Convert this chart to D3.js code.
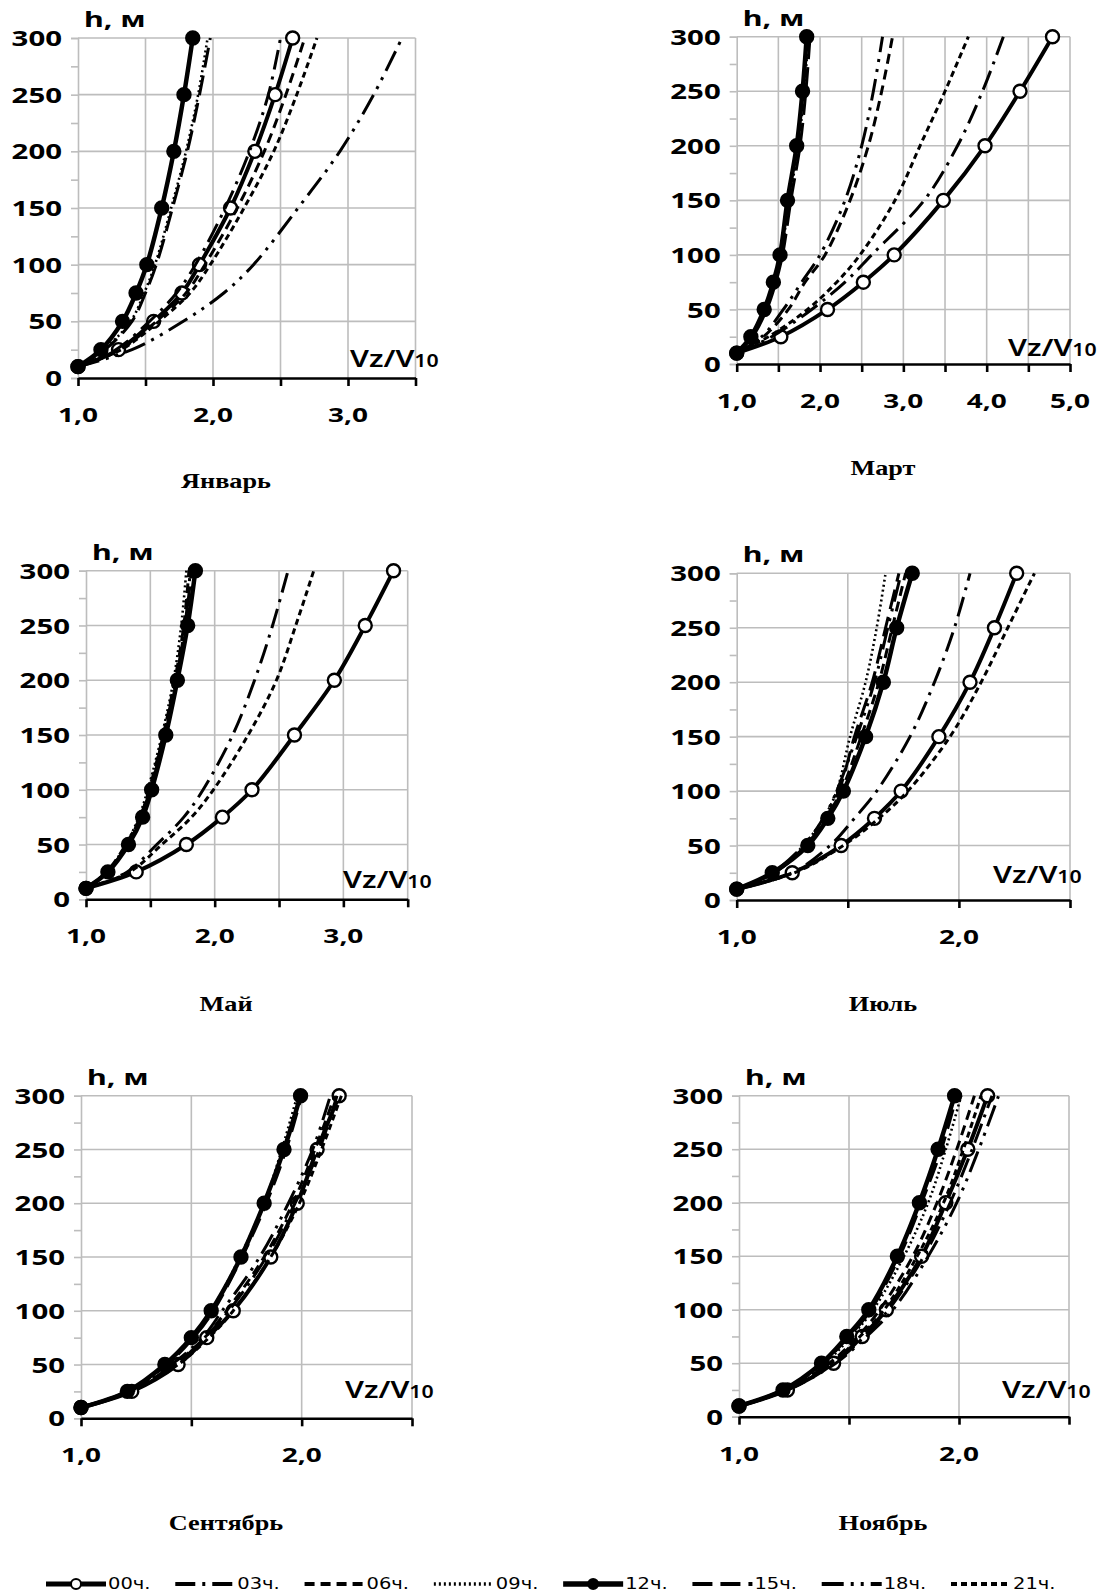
<!DOCTYPE html>
<html>
<head>
<meta charset="utf-8">
<script src="https://cdn.jsdelivr.net/npm/d3@7"></script>
<style>
body{margin:0;background:#fff;}
svg{display:block;}
</style>
</head>
<body>
<svg id="chart" width="1104" height="1595"></svg>
<script>
var heights = [10,25,50,75,100,150,200,250,300];
var hours = ["00ч.","03ч.","06ч.","09ч.","12ч.","15ч.","18ч.","21ч."];
var months = ["Январь","Март","Май","Июль","Сентябрь","Ноябрь"];
var xMax = [3.5,5,3.5,2.5,2.5,2.5];
var xLabels = [[1,2,3],[1,2,3,4,5],[1,2,3],[1,2],[1,2],[1,2]];
var yTicks = [0,50,100,150,200,250,300];

// Vz/V10, one row per hour: 00,03,06,09,12,15,18,21
var janValues = [
 [1.0,1.30,1.56,1.77,1.90,2.13,2.31,2.46,2.59],
 [1.0,1.28,1.53,1.73,1.87,2.09,2.27,2.41,2.50],
 [1.0,1.31,1.58,1.80,1.94,2.18,2.38,2.54,2.68],
 [1.0,1.19,1.39,1.49,1.57,1.69,1.80,1.89,1.96],
 [1.0,1.17,1.33,1.43,1.51,1.62,1.71,1.785,1.85],
 [1.0,1.20,1.40,1.50,1.58,1.70,1.81,1.90,1.98],
 [1.0,1.40,1.78,2.08,2.30,2.63,2.94,3.19,3.40],
 [1.0,1.32,1.60,1.83,1.98,2.23,2.45,2.62,2.77]
];
var marValues = [
 [1.0,1.53,2.09,2.52,2.89,3.48,3.98,4.40,4.79],
 [1.0,1.42,1.90,2.30,2.62,3.25,3.65,3.95,4.20],
 [1.0,1.32,1.62,1.82,2.06,2.36,2.58,2.74,2.87],
 [1.0,1.18,1.34,1.45,1.53,1.63,1.74,1.81,1.86],
 [1.0,1.17,1.33,1.44,1.52,1.61,1.72,1.79,1.84],
 [1.0,1.19,1.36,1.47,1.55,1.65,1.76,1.83,1.88],
 [1.0,1.30,1.56,1.78,2.00,2.30,2.50,2.64,2.75],
 [1.0,1.38,1.85,2.20,2.48,2.90,3.20,3.50,3.78]
];
var mayValues = [
 [1.0,1.39,1.78,2.06,2.29,2.62,2.93,3.17,3.39],
 [1.0,1.32,1.55,1.76,1.91,2.14,2.31,2.45,2.57],
 [1.0,1.16,1.31,1.42,1.49,1.60,1.69,1.76,1.80],
 [1.0,1.16,1.31,1.41,1.48,1.59,1.68,1.74,1.78],
 [1.0,1.17,1.33,1.44,1.51,1.62,1.71,1.79,1.85],
 [1.0,1.17,1.32,1.43,1.50,1.61,1.70,1.77,1.82],
 [1.0,1.17,1.32,1.42,1.50,1.60,1.70,1.77,1.81],
 [1.0,1.34,1.59,1.82,1.99,2.26,2.48,2.63,2.77]
];
var julValues = [
 [1.0,1.25,1.47,1.62,1.74,1.91,2.05,2.16,2.26],
 [1.0,1.25,1.42,1.53,1.63,1.78,1.89,1.98,2.05],
 [1.0,1.17,1.31,1.40,1.47,1.56,1.64,1.70,1.76],
 [1.0,1.17,1.30,1.39,1.45,1.51,1.58,1.63,1.67],
 [1.0,1.16,1.32,1.41,1.48,1.58,1.66,1.72,1.79],
 [1.0,1.17,1.31,1.40,1.46,1.53,1.61,1.67,1.73],
 [1.0,1.16,1.30,1.39,1.45,1.54,1.62,1.68,1.74],
 [1.0,1.26,1.48,1.64,1.77,1.96,2.10,2.22,2.34]
];
var sepValues = [
 [1.0,1.23,1.44,1.57,1.69,1.86,1.98,2.07,2.17],
 [1.0,1.23,1.43,1.56,1.67,1.84,1.97,2.08,2.16],
 [1.0,1.22,1.42,1.56,1.66,1.83,1.96,2.06,2.15],
 [1.0,1.21,1.38,1.50,1.59,1.72,1.83,1.91,1.98],
 [1.0,1.21,1.38,1.50,1.59,1.725,1.83,1.92,1.995],
 [1.0,1.21,1.39,1.51,1.60,1.73,1.84,1.93,2.00],
 [1.0,1.22,1.41,1.55,1.64,1.81,1.94,2.05,2.13],
 [1.0,1.23,1.44,1.58,1.69,1.86,1.99,2.09,2.18]
];
var novValues = [
 [1.0,1.22,1.43,1.56,1.67,1.83,1.94,2.04,2.13],
 [1.0,1.22,1.43,1.57,1.68,1.84,1.96,2.06,2.15],
 [1.0,1.21,1.41,1.54,1.64,1.79,1.90,1.99,2.07],
 [1.0,1.20,1.39,1.51,1.61,1.75,1.86,1.94,2.01],
 [1.0,1.20,1.375,1.49,1.59,1.72,1.82,1.905,1.98],
 [1.0,1.20,1.38,1.50,1.60,1.73,1.83,1.92,1.99],
 [1.0,1.22,1.44,1.58,1.70,1.86,1.99,2.09,2.18],
 [1.0,1.22,1.42,1.55,1.66,1.81,1.93,2.02,2.10]
];
var allValues = [janValues,marValues,mayValues,julValues,sepValues,novValues];

// where each panel sits on the page
var panels = [
 {left:78,    right:415.5, top:38,     bottom:378,    tx:226, ty:488,  vzx:350,  vzy:367},
 {left:736.7, right:1070,  top:36.7,   bottom:364,    tx:883, ty:475,  vzx:1008, vzy:356},
 {left:86,    right:407.7, top:570.7,  bottom:899.3,  tx:226, ty:1011, vzx:343,  vzy:888},
 {left:736.7, right:1070,  top:573.3,  bottom:900,    tx:883, ty:1011, vzx:993,  vzy:883},
 {left:81,    right:412,   top:1095.7, bottom:1418.3, tx:226, ty:1530, vzx:345,  vzy:1398},
 {left:739,   right:1069,  top:1095.7, bottom:1416.7, tx:883, ty:1530, vzx:1002, vzy:1398}
];

var styles = [
 {w:4,   dash:null},
 {w:3,   dash:"20,7,3,7"},
 {w:3,   dash:"10,6"},
 {w:2.6, dash:"2,3"},
 {w:4.5, dash:null},
 {w:3,   dash:"20,8"},
 {w:3,   dash:"22,7,3,7,3,7"},
 {w:3,   dash:"6,4"}
];

var grid = "#bdbdbd";
var sans = "'Noto Sans', 'Open Sans', sans-serif";
var svg = d3.select("#chart");

var drawPanel = function(i){
  var p = panels[i];
  var g = svg.append("g");
  var x = d3.scaleLinear().domain([1, xMax[i]]).range([p.left, p.right]);
  var y = d3.scaleLinear().domain([0, 300]).range([p.bottom, p.top]);

  // vertical grid
  g.selectAll(".vg")
   .data(d3.range(1.5, xMax[i] + 0.01, 0.5))
   .enter().append("line")
   .attr("x1", function(d){return x(d);})
   .attr("x2", function(d){return x(d);})
   .attr("y1", p.top).attr("y2", p.bottom)
   .attr("stroke", grid).attr("stroke-width", 1.6);

  // horizontal grid
  g.selectAll(".hg")
   .data(yTicks.slice(1))
   .enter().append("line")
   .attr("x1", p.left).attr("x2", p.right)
   .attr("y1", function(d){return y(d);})
   .attr("y2", function(d){return y(d);})
   .attr("stroke", grid).attr("stroke-width", 1.6);

  // y axis
  var yAxis = d3.axisLeft(y)
     .tickValues(d3.range(0, 301, 25))
     .tickSize(7)
     .tickFormat(function(d){ return d % 50 == 0 ? d : ""; });
  var ya = g.append("g")
     .attr("transform", "translate(" + p.left + ",0)")
     .call(yAxis);
  ya.select(".domain").attr("stroke", grid).attr("stroke-width", 1.6);
  ya.selectAll("line").attr("stroke", grid).attr("stroke-width", 1.6);
  ya.selectAll("text")
    .attr("x", -16 / 1.4)
    .attr("dy", "0.36em")
    .attr("transform", "scale(1.4,1)")
    .attr("font-family", sans).attr("font-weight", "bold")
    .attr("font-size", 21).attr("fill", "#000");

  // x axis
  var xAxis = d3.axisBottom(x)
     .tickValues(d3.range(1, xMax[i] + 0.01, 0.5))
     .tickSize(8)
     .tickSizeOuter(0)
     .tickFormat("");
  var xa = g.append("g")
     .attr("transform", "translate(0," + p.bottom + ")")
     .call(xAxis);
  xa.select(".domain").attr("stroke", "#000").attr("stroke-width", 2.6);
  xa.selectAll("line").attr("stroke", "#000").attr("stroke-width", 2.6);

  g.selectAll(".xl")
   .data(xLabels[i])
   .enter().append("text")
   .attr("transform", function(d){ return "translate(" + x(d) + "," + (p.bottom + 44) + ") scale(1.4,1)"; })
   .attr("text-anchor", "middle")
   .attr("font-family", sans).attr("font-weight", "bold").attr("font-size", 20)
   .text(function(d){ return d.toFixed(1).replace(".", ","); });

  // axis titles
  g.append("text")
   .attr("transform", "translate(" + (p.left + 6) + "," + (p.top - 11) + ") scale(1.38,1)")
   .attr("font-family", sans).attr("font-weight", "bold").attr("font-size", 22)
   .text("h, м");
  var vz = g.append("text")
   .attr("transform", "translate(" + p.vzx + "," + p.vzy + ") scale(1.25,1)")
   .attr("font-family", sans).attr("font-weight", 600).attr("font-size", 24);
  vz.append("tspan").text("Vz/V");
  vz.append("tspan").attr("font-size", 17).text("10");

  // series
  var line = d3.line()
     .x(function(d){ return x(d[0]); })
     .y(function(d){ return y(d[1]); })
     .curve(d3.curveCatmullRom.alpha(0.5));

  allValues[i].forEach(function(row, k){
    var pts = row.map(function(v, j){ return [v, heights[j]]; });
    g.append("path")
     .attr("d", line(pts))
     .attr("fill", "none")
     .attr("stroke", "#000")
     .attr("stroke-width", styles[k].w)
     .attr("stroke-dasharray", styles[k].dash)
     .attr("stroke-linejoin", "round");
    if (k == 0 || k == 4) {
      g.selectAll(".m" + k)
       .data(pts)
       .enter().append("circle")
       .attr("cx", function(d){ return x(d[0]); })
       .attr("cy", function(d){ return y(d[1]); })
       .attr("r", 6.5)
       .attr("fill", k == 0 ? "#fff" : "#000")
       .attr("stroke", "#000")
       .attr("stroke-width", 2.4);
    }
  });

  // month
  g.append("text")
   .attr("transform", "translate(" + p.tx + "," + p.ty + ") scale(1.25,1)")
   .attr("text-anchor", "middle")
   .attr("font-family", "'Liberation Serif', serif")
   .attr("font-weight", "bold").attr("font-size", 21)
   .text(months[i]);
}

for (var i = 0; i < months.length; i++) drawPanel(i);

// legend
var legendX = d3.scalePoint().domain(hours).range([46, 951]);
var ly = 1584;
var lg = svg.append("g");
hours.forEach(function(h, k){
  var x0 = legendX(h);
  lg.append("line")
    .attr("x1", x0).attr("x2", x0 + 60)
    .attr("y1", ly).attr("y2", ly)
    .attr("stroke", "#000")
    .attr("stroke-width", styles[k].w + 0.8)
    .attr("stroke-dasharray", styles[k].dash);
  if (k == 0 || k == 4) {
    lg.append("circle")
      .attr("cx", x0 + 30).attr("cy", ly).attr("r", 5)
      .attr("fill", k == 0 ? "#fff" : "#000")
      .attr("stroke", "#000").attr("stroke-width", 2);
  }
  lg.append("text")
    .attr("transform", "translate(" + (x0 + 62) + "," + (ly + 5) + ") scale(1.3,1)")
    .attr("font-family", "'DejaVu Sans', sans-serif")
    .attr("font-size", 15)
    .text(h);
});
</script>
</body>
</html>
